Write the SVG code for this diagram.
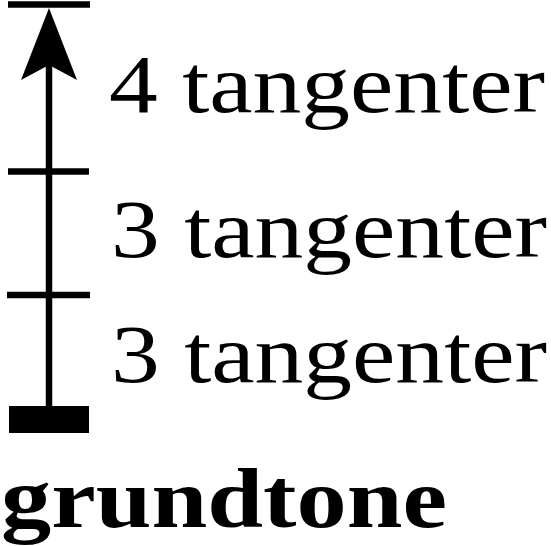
<svg xmlns="http://www.w3.org/2000/svg" width="551" height="546" viewBox="0 0 551 546">
<style>
.ln{stroke:#000;stroke-width:6.5;fill:none}
.lbl{font-family:'Liberation Serif','Times New Roman',serif;font-size:82px;fill:#000}
.root{font-family:'Liberation Serif','Times New Roman',serif;font-size:84px;font-weight:bold;fill:#000}
</style>
<rect width="551" height="546" fill="#fff"/>
<g id="connectors">
<line class="ln" x1="49" y1="60" x2="49" y2="408"/>
<polygon points="49,8 77,80 49,65 21,80" fill="#000"/>
</g>
<g id="tick-top"><line class="ln" x1="8" y1="4.5" x2="90" y2="4.5"/></g>
<g id="tick-mid"><line class="ln" x1="8" y1="171.5" x2="89" y2="171.5"/></g>
<g id="tick-low"><line class="ln" x1="7" y1="295" x2="90" y2="295"/></g>
<g id="base"><rect x="9" y="406" width="80" height="27" fill="#000"/></g>
<g id="label-4"><text class="lbl" x="109" y="112" textLength="436" lengthAdjust="spacingAndGlyphs">4 tangenter</text></g>
<g id="label-3a"><text class="lbl" x="111" y="257" textLength="436" lengthAdjust="spacingAndGlyphs">3 tangenter</text></g>
<g id="label-3b"><text class="lbl" x="111" y="382" textLength="436" lengthAdjust="spacingAndGlyphs">3 tangenter</text></g>
<g id="grundtone"><text class="root" x="1" y="527" textLength="446" lengthAdjust="spacingAndGlyphs">grundtone</text></g>
</svg>
